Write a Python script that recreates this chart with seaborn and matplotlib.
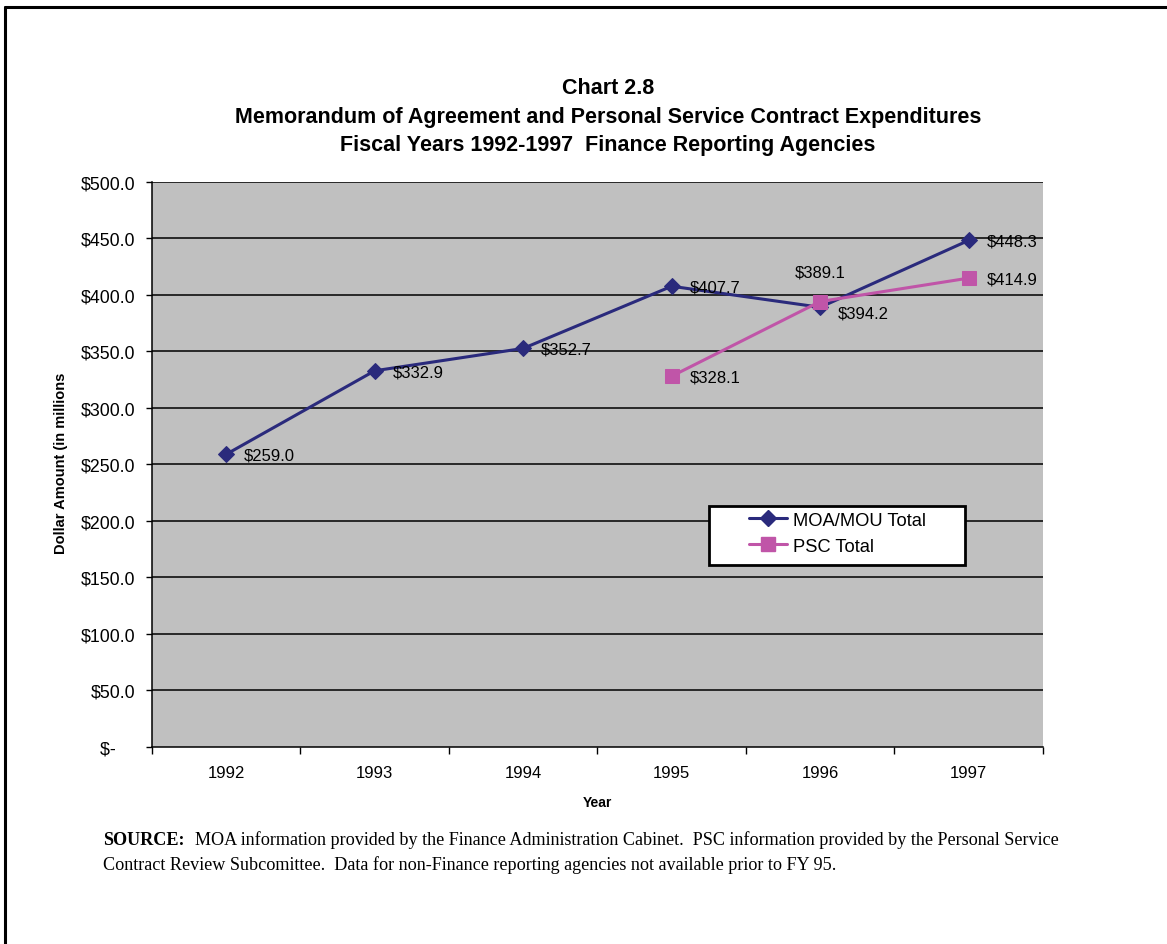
import numpy as np
import pandas as pd
import seaborn as sns
import matplotlib.pyplot as plt
from matplotlib.lines import Line2D
from matplotlib.patches import Rectangle

years = ['1992', '1993', '1994', '1995', '1996', '1997']
moa_total = [259.0, 332.9, 352.7, 407.7, 389.1, 448.3]
psc_total = [np.nan, np.nan, np.nan, 328.1, 394.2, 414.9]
y_ticks = [0, 50, 100, 150, 200, 250, 300, 350, 400, 450, 500]

navy = '#2a2a7c'
pink = '#c055a8'

df = pd.DataFrame({'idx': range(len(years)), 'year': years,
                   'moa': moa_total, 'psc': psc_total})

sns.set_style('white')
plt.rcParams['font.family'] = ['Liberation Sans', 'DejaVu Sans']
plt.rcParams['text.color'] = 'black'
plt.rcParams['axes.labelcolor'] = 'black'
plt.rcParams['xtick.color'] = 'black'
plt.rcParams['ytick.color'] = 'black'

fig = plt.figure(figsize=(11.67, 9.45), dpi=100)
ax = fig.add_axes([0.1302, 0.2085, 0.7635, 0.5979])
ax.set_facecolor('#c0c0c0')

sns.lineplot(data=df, x='idx', y='moa', ax=ax, color=navy, linewidth=2.2,
             marker='D', markersize=8.5, markeredgecolor=navy, zorder=4)
sns.lineplot(data=df.dropna(), x='idx', y='psc', ax=ax, color=pink, linewidth=2.2,
             marker='s', markersize=9.5, markeredgecolor=pink, zorder=5)

ax.set_xlim(-0.5, len(years) - 0.5)
ax.set_ylim(0, 500)

# horizontal gridlines
for v in y_ticks[1:]:
    ax.axhline(v, color='black', linewidth=1.1, zorder=2)

# accounting style: zero shows as "$-" with the dash on the units column
ax.set_yticks(y_ticks)
ax.set_yticklabels(['$-\u2007\u2007' if v == 0 else '${:.1f}'.format(v) for v in y_ticks], fontsize=12.8)
ax.tick_params(axis='y', which='major', direction='out', length=4, width=1, pad=8, left=True)

ax.set_xticks(np.arange(-0.5, len(years), 1.0))
ax.set_xticklabels([])
ax.set_xticks(range(len(years)), minor=True)
ax.set_xticklabels(years, minor=True, fontsize=12)
ax.tick_params(axis='x', which='major', direction='out', length=5, width=1, bottom=True)
ax.tick_params(axis='x', which='minor', length=0, pad=13)

for s in ['top', 'right']:
    ax.spines[s].set_visible(False)
for s in ['left', 'bottom']:
    ax.spines[s].set_color('black')
    ax.spines[s].set_linewidth(1.1)

ax.set_xlabel('Year', fontsize=10, fontweight='bold', labelpad=11)
ax.set_ylabel('')
fig.text(0.052, 0.51, 'Dollar Amount (in millions', rotation=90, fontsize=10.5,
         fontweight='bold', ha='center', va='center')

# data labels
for i, v in enumerate(moa_total):
    if years[i] == '1996':
        ax.annotate('${:.1f}'.format(v), (i, v), xytext=(0, 35), textcoords='offset pixels',
                    ha='center', va='center', fontsize=12, zorder=6)
    else:
        ax.annotate('${:.1f}'.format(v), (i, v), xytext=(18, -1), textcoords='offset pixels',
                    ha='left', va='center', fontsize=12, zorder=6)
for i, v in enumerate(psc_total):
    if np.isnan(v):
        continue
    off = (18, -11) if years[i] == '1996' else (18, -1)
    ax.annotate('${:.1f}'.format(v), (i, v), xytext=off, textcoords='offset pixels',
                ha='left', va='center', fontsize=12, zorder=6)

# legend box drawn separately for the wide padding
ax.add_patch(Rectangle((0.6251, 0.3221), 0.2874, 0.1044, transform=ax.transAxes,
                       facecolor='white', edgecolor='black', linewidth=2, zorder=9))
handles = [Line2D([], [], color=navy, linewidth=2.2, marker='D', markersize=8.5),
           Line2D([], [], color=pink, linewidth=2.2, marker='s', markersize=9.5)]
leg = ax.legend(handles, ['MOA/MOU Total', 'PSC Total'], loc='center left',
                bbox_to_anchor=(0.6705, 0.3785), fontsize=13.2, frameon=False,
                handlelength=2.05, handletextpad=0.33, borderpad=0, labelspacing=0.48,
                borderaxespad=0)
leg.set_zorder(10)

tx = 0.521
fig.text(tx, 0.906, 'Chart 2.8', ha='center', va='center', fontsize=15.5, fontweight='bold')
fig.text(tx, 0.876, 'Memorandum of Agreement and Personal Service Contract Expenditures',
         ha='center', va='center', fontsize=15.5, fontweight='bold')
fig.text(tx, 0.8465, 'Fiscal Years 1992-1997  Finance Reporting Agencies',
         ha='center', va='center', fontsize=15.5, fontweight='bold')

serif = ['Liberation Serif', 'DejaVu Serif']
fig.text(0.0883, 0.111, 'SOURCE:', fontsize=13.1, fontweight='bold', family=serif, va='center')
fig.text(0.1671, 0.111, 'MOA information provided by the Finance Administration Cabinet.  PSC information provided by the Personal Service',
         fontsize=13.1, family=serif, va='center')
fig.text(0.0883, 0.085, 'Contract Review Subcomittee.  Data for non-Finance reporting agencies not available prior to FY 95.',
         fontsize=13.1, family=serif, va='center')

# outer frame (left and top edges)
fig.add_artist(Line2D([0.0047, 0.0047], [0, 0.9915], color='black', linewidth=2.2, transform=fig.transFigure))
fig.add_artist(Line2D([0.0047, 1.0], [0.9915, 0.9915], color='black', linewidth=2.2, transform=fig.transFigure))

fig.savefig('out.png', dpi=100)
